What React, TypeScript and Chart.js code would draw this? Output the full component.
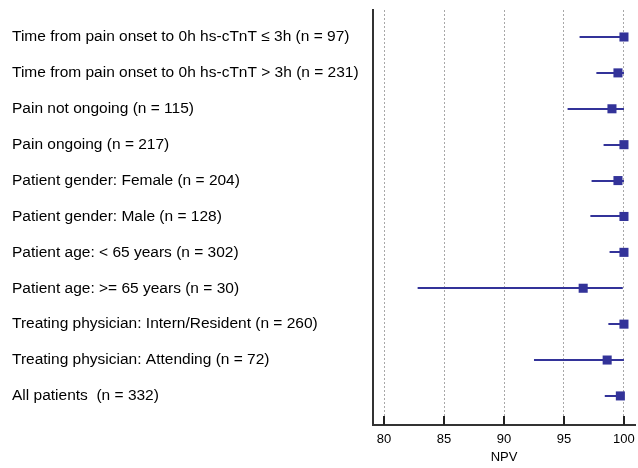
import React, { useEffect, useRef } from "react";
import { Chart, registerables } from "chart.js";

Chart.register(...registerables);

const labels = [
  "Time from pain onset to 0h hs-cTnT \u2264 3h (n = 97)",
  "Time from pain onset to 0h hs-cTnT > 3h (n = 231)",
  "Pain not ongoing (n = 115)",
  "Pain ongoing (n = 217)",
  "Patient gender: Female (n = 204)",
  "Patient gender: Male (n = 128)",
  "Patient age: < 65 years (n = 302)",
  "Patient age: >= 65 years (n = 30)",
  "Treating physician: Intern/Resident (n = 260)",
  "Treating physician: Attending (n = 72)",
  "All patients  (n = 332)",
];
const npv = [100, 99.5, 99.0, 100, 99.5, 100, 100, 96.6, 100, 98.6, 99.7];
const lower = [96.3, 97.7, 95.3, 98.3, 97.3, 97.2, 98.8, 82.8, 98.7, 92.5, 98.4];
const upper = [100, 100, 100, 100, 100, 100, 100, 99.9, 100, 100, 100];
const xTicks = [80, 85, 90, 95, 100];

const COLOR = "#333399";
const FONT = "'Liberation Sans', Arial, sans-serif";

const ciPlugin = {
  id: "ciLines",
  beforeDatasetsDraw(chart: any) {
    const { ctx, scales } = chart;
    const xs = scales.x, ys = scales.y;
    ctx.save();
    ctx.strokeStyle = COLOR;
    ctx.lineWidth = 2;
    for (let i = 0; i < labels.length; i++) {
      const y = Math.round(ys.getPixelForValue(i));
      ctx.beginPath();
      ctx.moveTo(xs.getPixelForValue(lower[i]), y);
      ctx.lineTo(xs.getPixelForValue(upper[i]), y);
      ctx.stroke();
    }
    ctx.restore();
  },
  afterDraw(chart: any) {
    const { ctx, scales, chartArea } = chart;
    const xs = scales.x;
    ctx.save();
    ctx.strokeStyle = "#222";
    ctx.lineWidth = 2;
    for (const v of xTicks) {
      const x = Math.round(xs.getPixelForValue(v));
      ctx.beginPath();
      ctx.moveTo(x, chartArea.bottom);
      ctx.lineTo(x, chartArea.bottom - 9);
      ctx.stroke();
    }
    ctx.restore();
  },
};

export default function App() {
  const ref = useRef<HTMLCanvasElement>(null);
  useEffect(() => {
    const chart = new Chart(ref.current!, {
      type: "scatter",
      data: {
        datasets: [
          {
            data: npv.map((v, i) => ({ x: v, y: i })),
            backgroundColor: COLOR,
            borderColor: COLOR,
            borderWidth: 0,
            pointStyle: "rect",
            pointRadius: 6.4,
            clip: false,
          },
        ],
      },
      options: {
        animation: false,
        responsive: false,
        layout: { autoPadding: false, padding: { left: 12, right: 3, top: 10, bottom: 0 } },
        plugins: { legend: { display: false }, tooltip: { enabled: false } },
        scales: {
          x: {
            type: "linear",
            min: 79.08,
            max: 100.92,
            afterBuildTicks: (axis: any) => {
              axis.ticks = xTicks.map((v) => ({ value: v }));
            },
            afterFit: (axis: any) => {
              axis.height = 43;
              axis.paddingLeft = 0;
              axis.paddingRight = 0;
            },
            grid: {
              display: true,
              drawTicks: false,
              color: "#a8a8a8",
              lineWidth: 1,
            },
            border: { display: true, color: "#333", width: 2, dash: [2, 2] },
            ticks: {
              padding: 7,
              color: "#000",
              font: { family: FONT, size: 13 },
            },
            title: {
              display: true,
              text: "NPV",
              color: "#000",
              font: { family: FONT, size: 13 },
              padding: { top: 0, bottom: 3 },
            },
          },
          y: {
            type: "linear",
            reverse: true,
            min: -0.752,
            max: 10.81,
            afterBuildTicks: (axis: any) => {
              axis.ticks = labels.map((_, i) => ({ value: i }));
            },
            afterFit: (axis: any) => {
              axis.width = 361;
              axis.paddingTop = 0;
              axis.paddingBottom = 0;
            },
            grid: { display: false, drawTicks: false },
            border: { display: true, color: "#333", width: 2 },
            ticks: {
              crossAlign: "far",
              color: "#000",
              font: { family: FONT, size: 15.5 },
              callback: (v: any) => labels[v as number] ?? "",
            },
          },
        },
      },
      plugins: [ciPlugin],
    } as any);
    return () => chart.destroy();
  }, []);
  return (
    <div style={{ position: "absolute", left: 0, top: 0, width: 638, height: 468, background: "#fff" }}>
      <canvas ref={ref} width={638} height={468} />
    </div>
  );
}
